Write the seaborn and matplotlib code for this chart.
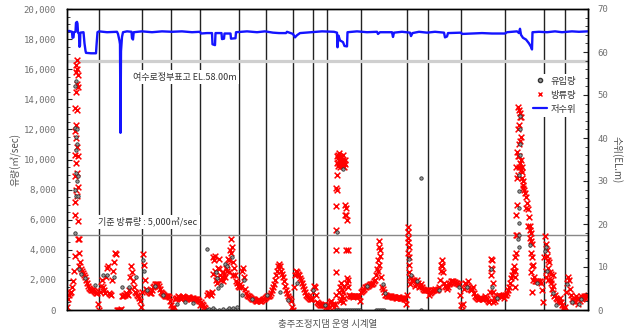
import matplotlib
matplotlib.use("Agg")
import matplotlib.pyplot as plt
from matplotlib.lines import Line2D
from matplotlib.ticker import MultipleLocator
import seaborn as sns
import pandas as pd

# ---------------- data ----------------
# outflow (방류량, m3/s), one value per day index 0..521
out_flow = [
    200, 700, 1000, 1150, 1200, 1500, 1900, 2600, 3600, 8000, 7600, 5900, 3800, 3200,
    2750, 2600, 2450, 2300, 2200, 2000, 1800, 1600, 1450, 1400, 1350, 1350, 1300, 1250, 1200, 1150, 1100, 400, 0,
    1200, 1600, 2000, 1500, 1300, 1100, 2200, 2800, 2900, 1100, 1050, 1000, 2000, 2600, 3200, 3800, 3700,
    0, 0, 0, 0, 50, 900, 950, 1000, 1000, 1100, 1050, 1000, 1300, 2200, 2900, 2500, 1900, 1500, 1200, 1100,
    1000, 900, 800, 600, 200,
    1200, 3700, 3000, 2000, 1400, 1300, 1250, 1200, 1150, 1100, 1300, 1500, 1600, 1700, 1750, 1750, 1700,
    1600, 1400, 1200, 1100, 1050, 1000, 950, 950, 900, 900, 850, 600, 300,
    100, 0, 200, 700, 800, 800, 900, 850, 800, 750, 850, 900, 850, 800, 750, 800, 850, 850, 800, 750, 800,
    800, 750, 700, 750, 700, 650, 600,
    300, 500, 400, 300, 200, 100, 0, 1000, 1100, 1100, 1050, 1000, 1200, 3500, 3300, 2600, 2000, 2200, 2800,
    3400, 2300, 2000, 2200, 2500, 2400, 2200, 2800, 3000, 3400, 3300, 4000, 4700, 4200, 3200, 2800, 2300,
    1900, 1800, 1600, 1500,
    1700, 1500, 2600, 2800, 2200, 1400, 1100, 1000, 950, 900, 850, 800, 750, 700, 700, 650, 600, 600, 650,
    650, 600, 600, 650, 700, 750, 800,
    850, 900, 950, 950, 1000, 1100, 1300, 1500, 1700, 2000, 2300, 2600, 2900, 3050, 2900, 2600, 2400, 2200,
    1900, 1600, 1300, 1100, 950, 800, 700, 600, 200, 0,
    1500, 2300, 2600, 2500, 2400, 2300, 2150, 2000, 1800, 1600, 1400, 1200, 1000, 900, 850, 800, 750, 700, 700,
    1200, 1600, 1500, 1000, 500, 450, 400, 350, 350, 300, 300, 350, 400, 200, 100,
    300, 200, 500, 600, 300, 400, 200, 400,
    6900, 9000, 10100, 10000, 9900, 10100, 10000, 9900, 9800, 10000, 6800, 6000, 1500,
    1000, 950, 900, 900, 850, 900, 900, 950, 950, 900, 900, 600,
    1200, 1250, 1300, 1400, 1500, 1550, 1600, 1600, 1650, 1700, 1700, 1750, 1800, 1900, 2000, 2300, 2700,
    3300, 4200, 3600, 2200, 1500, 1400, 1200, 1000, 1000, 950, 950, 950, 900, 900, 850, 850, 850, 850, 800,
    800, 850, 850, 800, 800, 800, 800, 750, 750, 400,
    1000, 4500, 3500, 2200, 2100, 2000, 1900, 2000, 1600, 1700, 2000, 1800, 1500, 1600, 1700, 1500, 1400,
    1300, 1300, 1300, 1300,
    1300, 1000, 1100, 1200, 1250, 1300, 1350, 1400, 1350, 1300, 1400, 1500, 2000, 3000, 3300, 2500, 1800,
    1600, 1500, 1400, 1550, 1700, 1800, 1900, 1900, 1900, 1850, 1850, 1800, 1800, 1750, 1700, 1000, 300,
    0, 400, 1400, 1800, 1700, 1600, 1900, 1500, 1400, 1300, 1400, 1500, 1100, 900, 850, 800, 750, 750, 800,
    800, 750, 700, 800, 900, 800, 700, 600, 500, 1200, 2800, 3300, 1800, 800, 600, 800, 900, 950, 1000, 950,
    900, 950, 1000, 800,
    1000, 1000, 1100, 1300, 1500, 1800, 2100, 2300, 2600, 2900, 3500, 5000, 7000, 9000, 11000, 12800, 11500,
    9500, 8300, 8000, 7800, 7500, 7100, 6700, 6200, 5600, 5100, 4400, 3000, 2200, 1950, 1900, 1950, 1900,
    1850, 1900, 1800, 1300, 500, 3500,
    4900, 4400, 3600, 3300, 3200, 2500, 2400, 1400, 1100, 900, 1000, 800, 700, 600, 500, 800, 500, 300, 100,
    0, 200,
    1200, 1800, 2200, 2000, 1400, 1000, 700, 600, 800, 500, 900, 700, 400, 800, 600, 900, 700, 800, 900, 800,
    900, 900, 1000,
]
out_day = list(range(len(out_flow)))

# additional outflow readings on flood days
peak_day = [8, 8, 8, 8, 8, 8, 9, 9, 9, 9, 9, 9, 10, 10, 10, 10, 10, 10, 11, 11, 11, 11, 11, 12, 12,
            146, 148, 150, 152, 156, 160, 162, 164, 166,
            269, 269, 269, 269, 269, 269, 270, 270, 270, 271, 271, 272, 272, 272, 273, 273, 273, 273,
            274, 274, 274, 275, 275, 275, 276, 276, 276, 277, 277, 277, 278, 278, 278, 279, 279,
            280, 280, 281, 281,
            311, 312, 312, 313, 341, 341, 341, 341, 342, 342, 342, 343, 374, 375,
            424, 424, 425, 426, 426,
            448, 448, 448, 449, 449, 449, 450, 450, 450, 451, 451, 451, 452, 452, 452, 452, 453, 453, 453,
            454, 454, 454, 455, 455, 456, 456, 459, 461, 463, 463, 464, 464, 464, 465, 465, 465, 466,
            479, 479, 480, 481, 481, 484, 484, 486, 486]
peak_flow = [6300, 7200, 8900, 10300, 11900, 13400, 9800, 11400, 14500, 15800, 16300, 12300,
             10800, 13300, 15000, 16000, 16600, 9100, 8200, 10200, 14800, 15600, 4700, 2900, 4700,
             2400, 3600, 1800, 2700, 1900, 2600, 2500, 3800, 2300,
             0, 1000, 2500, 4000, 5300, 8100, 9800, 10200, 8000, 9600, 10300, 9700, 10400, 1200,
             10200, 9500, 1500, 600, 9800, 700, 1800, 9600, 900, 1300, 10300, 1200, 500, 9500, 800,
             1600, 9700, 7000, 6300, 4000, 6300, 1800, 2100, 2000, 4000,
             2600, 4600, 3000, 4000, 5500, 5200, 4800, 3800, 4200, 3000, 2500, 1700, 2600, 2900,
             2300, 3400, 2700, 1200, 500,
             2200, 2600, 1500, 3800, 6300, 9500, 5000, 8800, 10500, 10200, 12000, 13500,
             9500, 10200, 13300, 12300, 9800, 11200, 13100, 9300, 12800, 10000, 8800, 9200,
             8100, 8600, 6800, 5600, 4800, 5300, 3800, 4600, 2500, 3500, 1200, 2900, 2000,
             2200, 2600, 4000, 2800, 2000, 2000, 1800, 1600, 2300]

# inflow (유입량, m3/s) readings that stand out from the outflow band
in_day = [8, 8, 8, 8, 9, 9, 9, 9, 9, 10, 10, 10, 11, 11, 12, 14, 18, 28, 36, 40, 47, 55, 62, 69,
          76, 77, 80, 88, 96, 110, 118, 126, 140, 140, 142, 144, 146, 148, 149, 150, 151, 152, 154,
          156, 158, 160, 160, 162, 164, 165, 166, 168, 170, 175, 177, 185, 200, 213, 221, 230, 246,
          258, 269, 271, 273, 275, 277, 279, 281, 283, 285, 287, 289, 291, 293, 270, 276, 300,
          309, 311, 313, 315, 317, 316, 318, 342, 344, 350, 354, 354, 372, 392, 400, 424, 425, 430,
          451, 452, 452, 452, 452, 452, 452, 453, 453, 453, 453, 463, 470, 478, 479, 480, 486, 489,
          500, 505, 512, 514]
in_flow = [5100, 8000, 12100, 14900, 7600, 9100, 10600, 11500, 15200, 8600, 11000, 12000, 7600,
           8900, 2700, 2400, 2100, 1650, 2300, 2300, 2200, 1550, 1500, 2200, 3300, 2600, 1300, 1600,
           1000, 400, 500, 450, 4050, 0, 50, 0, 100, 0, 2550, 2100, 1450, 0, 1650, 50, 3050, 2900, 0,
           100, 0, 3550, 100, 0, 200, 1000, 2000, 700, 1000, 1200, 650, 1800, 1300, 300,
           0, 0, 0, 0, 0, 0, 0, 0, 0, 0, 0, 0, 0, 5200, 9400, 1600,
           0, 0, 0, 0, 0, 1700, 1100, 3400, 2300, 1900, 8800, 0, 1300, 1500, 1500, 2700, 1500, 800,
           4700, 4200, 5000, 5800, 6800, 7900, 9000, 10300, 11000, 12000, 12900, 4300, 1800, 3900,
           4200, 2600, 1100, 300, 1700, 500, 400, 700]

# reservoir water level (저수위, EL.m)
level_day = [0, 2, 5, 5.5, 6.5, 7, 8.5, 9, 10, 10.5, 11, 12, 12.5, 13, 13.3, 16.5, 17.5, 18.5, 19,
             24, 29, 29.5, 30.5, 32, 40, 50, 51, 52.5, 53, 53.5, 54, 55, 56, 60, 64.5, 65, 66, 66.7,
             75, 85, 95, 105, 115, 125, 133, 134, 140, 145, 145.5, 148, 148.5, 154.5, 155, 157, 157.5,
             163.5, 164, 168.5, 169, 180, 190, 198, 206, 212, 219, 220, 226, 228, 230, 233, 244, 255,
             267, 270, 270.5, 271.5, 273, 276, 277.5, 280, 280.5, 290, 300, 310, 311, 313, 325, 326,
             327, 335, 343, 344, 345.5, 352, 360, 368, 377, 378, 380, 381, 394, 395, 405, 415, 425,
             438, 440, 450, 452, 453, 454, 456, 459, 462, 464, 465, 465.5, 472, 480, 488, 495, 505,
             512, 521]
level_m = [64.8, 64.9, 64.7, 63.3, 63.4, 64.6, 64.7, 66.8, 67.0, 66.6, 64.5, 64.2, 61.2, 61.5,
           64.5, 64.6, 62.0, 60.3, 59.8, 59.7, 59.7, 61.5, 64.6, 64.8, 64.6, 64.7, 64.2, 62.6, 61.8,
           41.2, 60.2, 63.5, 64.6, 64.8, 64.7, 63.2, 62.9, 64.6, 64.8, 64.6, 64.8, 64.7, 64.8, 64.6,
           64.7, 64.3, 64.4, 64.4, 61.8, 61.6, 64.4, 64.4, 63.0, 63.1, 64.3, 64.3, 63.1, 63.2, 64.6,
           64.8, 64.6, 64.8, 64.5, 64.4, 64.4, 64.7, 64.2, 63.4, 63.9, 64.4, 64.6, 64.8, 64.7, 64.5,
           61.1, 63.8, 62.7, 62.3, 61.4, 61.3, 64.6, 64.8, 64.6, 64.7, 64.2, 64.6, 64.6, 63.5, 64.5,
           64.7, 64.5, 63.7, 64.4, 64.7, 64.5, 64.7, 64.5, 63.4, 63.6, 64.4, 64.5, 64.2, 64.3, 64.4,
           64.3, 64.3, 64.6, 64.8, 64.4, 65.4, 64.0, 63.3, 62.9, 62.0, 61.2, 60.6, 64.6, 64.7, 64.6,
           64.8, 64.6, 64.8, 64.7, 64.8]

sep_days = [32, 75, 104, 133, 172, 199, 226, 246, 260, 294, 340, 361, 394, 438, 477, 498]
spillway_crest_el = 58.0      # EL.m
ref_outflow = 5000            # m3/s
flow_ticks = [0, 2000, 4000, 6000, 8000, 10000, 12000, 14000, 16000, 18000, 20000]
level_ticks = [0, 10, 20, 30, 40, 50, 60, 70]

# ---------------- figure ----------------
sns.set_theme(style="white")
plt.rcParams["font.family"] = ["Noto Sans CJK KR", "DejaVu Sans"]

fig = plt.figure(figsize=(6.24, 3.35), dpi=100)
ax = fig.add_axes([67 / 624, 25 / 335, 521 / 624, 301 / 335])
ax2 = ax.twinx()

ax.set_xlim(0, 521)
ax.set_ylim(0, 20000)
ax2.set_ylim(0, 70)

for d in sep_days:
    ax.axvline(d, color="#222222", lw=1.0, zorder=1)
ax.axhline(spillway_crest_el / 70 * 20000, color="#cfcfcf", lw=2.3, zorder=2)
ax.axhline(ref_outflow, color="#888888", lw=1.0, zorder=2)

out_df = pd.DataFrame({"day": out_day + peak_day, "flow": out_flow + peak_flow})
in_df = pd.DataFrame({"day": in_day, "flow": in_flow})
lv_df = pd.DataFrame({"day": level_day, "level": level_m})

sns.scatterplot(data=out_df, x="day", y="flow", marker="x", color="#ff0000", s=17,
                linewidth=1.1, ax=ax, zorder=3, legend=False)
sns.scatterplot(data=in_df, x="day", y="flow", marker="o", color="#9a9a9a", edgecolor="#333333",
                s=6, linewidth=0.6, ax=ax, zorder=4, legend=False)
sns.lineplot(data=lv_df, x="day", y="level", color="#1414ff", lw=1.7, sort=False,
             estimator=None, ax=ax2, legend=False)

ax.text(66, 15480, "여수로정부표고 EL.58.00m", fontsize=6.5, color="#333333", va="center",
        ha="left", zorder=6, bbox=dict(facecolor="white", edgecolor="none", pad=1.5))
ax.text(31.5, 5870, "기준 방류량 : 5,000㎥/sec", fontsize=6.5, color="#333333", va="center",
        ha="left", zorder=6, bbox=dict(facecolor="white", edgecolor="none", pad=1.5))

# axes styling
ax.set_xticks([])
ax.set_xlabel("충주조정지댐 운영 시계열", fontsize=6.8, color="#555555", labelpad=7)
ax.set_yticks(flow_ticks)
ax.set_yticklabels([f"{t:,}" for t in flow_ticks], fontfamily="DejaVu Sans Mono")
ax.yaxis.set_minor_locator(MultipleLocator(500))
ax.tick_params(axis="y", which="major", direction="in", length=3.5, width=0.8,
               labelsize=6.5, labelcolor="#707070", pad=8, left=True)
ax.tick_params(axis="y", which="minor", direction="in", length=2, width=0.6, left=True)
ax.set_ylabel("유량(㎥/sec)", fontsize=7, color="#555555")
ax.yaxis.set_label_coords(-0.088, 0.5)

ax2.set_yticks(level_ticks)
ax2.set_yticklabels([str(t) for t in level_ticks], fontfamily="DejaVu Sans Mono")
ax2.yaxis.set_minor_locator(MultipleLocator(2))
ax2.tick_params(axis="y", which="major", direction="in", length=3.5, width=0.8,
                labelsize=6.5, labelcolor="#707070", pad=7, right=True)
ax2.tick_params(axis="y", which="minor", direction="in", length=2, width=0.6, right=True)
ax2.set_ylabel("수위(EL.m)", fontsize=7, color="#555555", rotation=270, va="bottom")
ax2.yaxis.set_label_coords(1.046, 0.5)

for a in (ax, ax2):
    for sp in a.spines.values():
        sp.set_color("black")
        sp.set_linewidth(1.0)

handles = [
    Line2D([], [], marker="o", ls="", color="#9a9a9a", markeredgecolor="#333333", markersize=3),
    Line2D([], [], marker="x", ls="", color="#ff0000", markersize=3.5, markeredgewidth=1),
    Line2D([], [], color="#1414ff", lw=1.6),
]
leg = ax2.legend(handles, ["유입량", "방류량", "저수위"], loc="upper left",
                 bbox_to_anchor=(0.89, 0.785), frameon=True, facecolor="white",
                 edgecolor="none", framealpha=1, fontsize=6.7, handlelength=1.5,
                 handletextpad=0.3, borderpad=0.3, labelspacing=0.55, borderaxespad=0)
for t in leg.get_texts():
    t.set_color("#333333")

fig.savefig("out.png", dpi=100)
